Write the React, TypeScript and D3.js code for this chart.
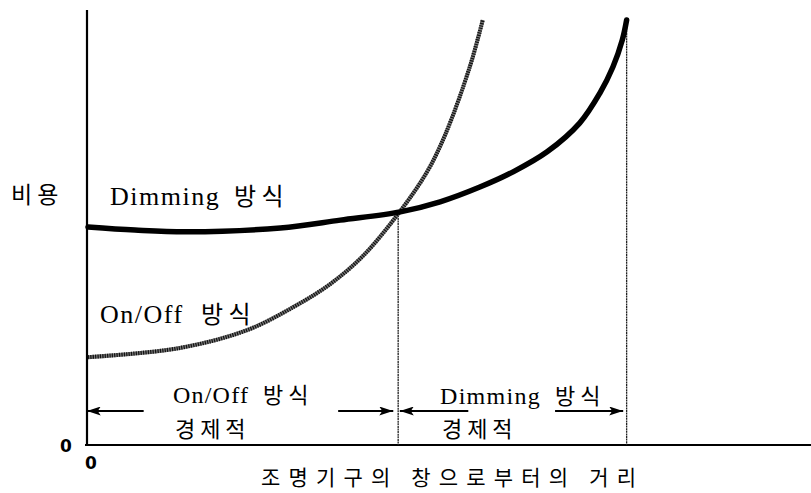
import React, { useEffect, useRef } from 'react';
import * as d3 from 'd3';

// distance from window (arbitrary units), cost (arbitrary units)
const dimmingX = [0, 6.5, 13.7, 26.6, 34.9, 43.2, 48.7, 54.2, 58.8, 63.5, 68.0, 70.8, 72.6, 73.9, 74.5];
const dimmingY = [50.1, 49.4, 49.0, 49.9, 51.7, 53.6, 55.9, 59.3, 62.8, 67.4, 74.0, 80.9, 86.9, 93.1, 97.7];

const onOffX = [0, 12.7, 22.0, 28.4, 33.5, 38.0, 43.2, 46.9, 49.4, 52.8, 54.6];
const onOffY = [20.2, 22.3, 26.4, 31.7, 37.0, 43.4, 53.8, 62.8, 71.3, 86.9, 97.7];

const crossX = 42.9;
const crossY = 53.4;

const App = () => {
  const svgRef = useRef<SVGSVGElement>(null);

  useEffect(() => {
    if (!svgRef.current) return;
    d3.select(svgRef.current).selectAll('*').remove();

    const width = 811;
    const height = 493;
    const svg = d3.select(svgRef.current)
      .attr('width', width)
      .attr('height', height);

    const x = d3.scaleLinear().domain([0, 100]).range([88, 811]);
    const y = d3.scaleLinear().domain([0, 100]).range([445, 10]);

    const serif = '"Liberation Serif", "Times New Roman", "Noto Sans CJK KR", serif';
    const sans = '"Noto Sans CJK KR", "DejaVu Sans", sans-serif';

    const defs = svg.append('defs');
    defs.append('marker')
      .attr('id', 'arrow')
      .attr('viewBox', '0 0 14 9')
      .attr('refX', 14)
      .attr('refY', 4.5)
      .attr('markerWidth', 14)
      .attr('markerHeight', 9)
      .attr('markerUnits', 'userSpaceOnUse')
      .attr('orient', 'auto')
      .append('path')
      .attr('d', 'M0,0 L14,4.5 L0,9 L3,4.5 z')
      .attr('fill', '#000');

    // axes
    svg.append('line')
      .attr('x1', x(0) - 1).attr('x2', x(0) - 1)
      .attr('y1', y(100)).attr('y2', y(0))
      .attr('stroke', '#000').attr('stroke-width', 2.2);
    svg.append('line')
      .attr('x1', x(0) - 3).attr('x2', x(100))
      .attr('y1', y(0)).attr('y2', y(0))
      .attr('stroke', '#000').attr('stroke-width', 2.2);

    // vertical guides
    const dimEndX = dimmingX[dimmingX.length - 1];
    const dimEndY = dimmingY[dimmingY.length - 1];
    [[crossX, crossY], [dimEndX, dimEndY]].forEach(([gx, gy]) => {
      svg.append('line')
        .attr('x1', x(gx)).attr('x2', x(gx))
        .attr('y1', y(gy)).attr('y2', y(0))
        .attr('stroke', '#222').attr('stroke-width', 1.3)
        .attr('stroke-dasharray', '2,0.6');
    });

    const line = d3.line<[number, number]>()
      .x(d => x(d[0]))
      .y(d => y(d[1]))
      .curve(d3.curveCatmullRom.alpha(0.5));

    const onOff = onOffX.map((v, i) => [v, onOffY[i]] as [number, number]);
    const dimming = dimmingX.map((v, i) => [v, dimmingY[i]] as [number, number]);

    // On/Off curve (stippled grey)
    svg.append('path')
      .attr('d', line(onOff))
      .attr('fill', 'none')
      .attr('stroke', '#7a7a7a')
      .attr('stroke-width', 4);
    svg.append('path')
      .attr('d', line(onOff))
      .attr('fill', 'none')
      .attr('stroke', '#111')
      .attr('stroke-width', 4)
      .attr('stroke-dasharray', '1.2,1.2');

    // Dimming curve (thick black)
    svg.append('path')
      .attr('d', line(dimming))
      .attr('fill', 'none')
      .attr('stroke', '#000')
      .attr('stroke-width', 5.5)
      .attr('stroke-linecap', 'round');

    // economic range arrows
    const arrowY = 411;
    const arrows = [
      [7.7, 0.1], [34.6, crossX - 0.4], [52.6, crossX + 0.5], [64.6, dimEndX - 0.2],
    ];
    arrows.forEach(([a, b]) => {
      svg.append('line')
        .attr('x1', x(a)).attr('x2', x(b) - 2)
        .attr('y1', arrowY).attr('y2', arrowY)
        .attr('stroke', '#000').attr('stroke-width', 2.2)
        .attr('marker-end', 'url(#arrow)');
    });

    // texts
    const text = (tx: number, ty: number, s: string, size: number, family: string, extra: Record<string, string | number> = {}) => {
      const t = svg.append('text')
        .attr('x', tx).attr('y', ty)
        .style('font-family', family)
        .style('font-size', `${size}px`)
        .attr('fill', '#000')
        .text(s);
      Object.entries(extra).forEach(([k, v]) => t.style(k, String(v)));
      return t;
    };

    text(11, 203, '비 용', 23, sans);
    text(110, 205, 'Dimming', 26, serif, { 'letter-spacing': '1.5px' });
    text(234, 205, '방 식', 24, sans);
    text(100, 323, 'On/Off', 26, serif, { 'letter-spacing': '1.5px' });
    text(201, 323, '방 식', 24, sans);

    text(173, 403, 'On/Off', 24, serif, { 'letter-spacing': '1.2px' });
    text(263, 403, '방 식', 22, sans);
    text(175, 437, '경 제 적', 22, sans);

    text(440, 404, 'Dimming', 24, serif, { 'letter-spacing': '1.3px' });
    text(555, 404, '방 식', 22, sans);
    text(442, 437, '경 제 적', 22, sans);

    text(60, 452, '0', 17, '"DejaVu Sans", sans-serif', { 'font-weight': 'bold' });
    text(85, 469, '0', 17, '"DejaVu Sans", sans-serif', { 'font-weight': 'bold' });

    svg.append('text')
      .attr('x', 261).attr('y', 485)
      .attr('textLength', 375)
      .attr('lengthAdjust', 'spacing')
      .style('font-family', sans)
      .style('font-size', '21px')
      .text('조명기구의 창으로부터의 거리');
  }, []);

  return (
    <div style={{ position: 'absolute', left: 0, top: 0 }}>
      <svg ref={svgRef} style={{ display: 'block', background: '#fff' }} />
    </div>
  );
};

export default App;
